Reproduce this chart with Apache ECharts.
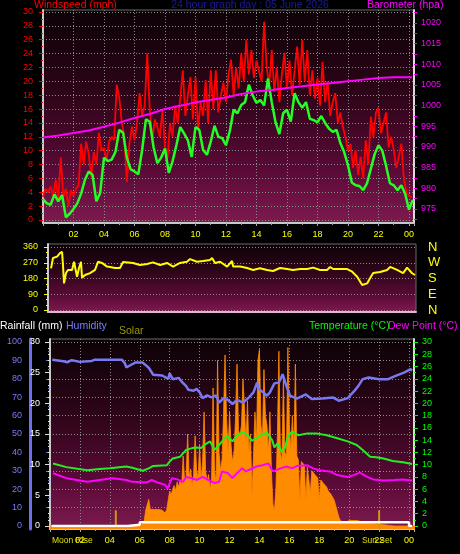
<!DOCTYPE html>
<html><head><meta charset="utf-8">
<script src="https://cdn.jsdelivr.net/npm/echarts@6/dist/echarts.min.js"></script>
<style>html,body{margin:0;padding:0;background:#000;}#c{width:460px;height:554px;}</style>
</head><body><div id="c"></div>
<script>
// ---------------- DATA ----------------
// wind gust (red), 10-minute steps from 00:00
const windGustStepH = 1/6;
const windGustMph = [
 3.3,4.5,4.0,4.8,3.5,5.8, 3.0,9.0,3.3,4.5,2.0,4.3, 3.5,4.5,5.0,11.0,8.0,11.3, 9.5,6.2,9.8,8.0,12.6,10.0,
 10.4,8.5,11.3,12.0,11.5,19.5, 17.7,14.0,12.0,5.5,11.0,13.5, 11.5,14.0,18.3,15.0,16.5,24.0, 16.0,11.5,14.5,13.4,12.0,15.9,
 10.5,9.0,14.0,12.0,16.5,14.0, 17.5,21.6,15.0,18.0,20.6,14.5, 20.6,13.0,17.0,15.0,20.2,14.0, 21.6,16.0,21.6,15.5,18.0,19.8,
 17.0,21.0,23.1,18.0,22.0,19.0, 24.0,20.0,26.0,21.0,24.5,20.5, 23.0,21.5,20.0,28.6,22.0,19.5, 24.5,18.5,22.0,17.0,21.0,24.1,
 19.0,23.0,18.0,21.5,25.0,19.5, 26.0,20.0,24.5,18.0,21.6,17.5, 20.5,16.5,22.8,17.0,20.0,15.0, 17.0,18.3,14.0,15.5,13.4,12.0,
 10.0,11.0,7.5,10.1,6.5,9.1, 6.0,11.5,8.0,14.9,12.0,15.5, 16.2,12.5,14.0,15.5,10.5,12.0, 10.1,7.5,9.1,11.0,6.0,4.0,
 3.5,3.3];
// average wind speed (green), 15-minute steps
const windAvgStepH = 0.25;
const windAvgMph = [
 3.0,2.4,2.2,3.7,2.7,3.6,0.4,0.9,1.6,2.4,
 3.8,5.8,7.0,6.5,2.7,3.9,9.0,8.5,8.7,9.8,
 13.0,12.6,9.0,7.3,7.0,6.6,10.1,14.5,14.2,10.5,
 8.2,9.0,10.3,6.8,8.5,10.8,13.4,12.5,11.5,9.1,
 13.4,13.0,10.1,9.4,11.3,13.6,12.0,11.8,10.8,12.8,
 15.9,15.4,16.6,17.0,19.5,18.0,16.9,17.3,16.5,20.4,
 17.0,14.1,12.4,15.4,15.9,14.2,18.3,17.0,16.2,17.0,
 14.6,14.4,14.1,15.0,14.0,13.2,12.7,13.0,11.1,9.8,
 7.9,5.4,5.0,4.9,4.3,5.3,7.4,9.5,10.8,10.0,
 7.8,5.3,5.0,4.3,5.0,3.8,1.5,2.9];
// barometer
const baroHours = [0,1,2,3,4,5,6,7,8,9,10,11,12,13,14,15,16,17,18,19,20,21,22,23,24,24.2];
const baroHpa = [992.3,992.8,993.4,994.0,994.9,995.9,997.0,998.0,999.2,1000.0,1000.8,1001.4,1002.0,1002.8,1003.4,1003.8,1004.3,1004.7,1005.1,1005.5,1005.9,1006.3,1006.7,1006.9,1006.9,1006.9];
const baroLabels = [975,980,985,990,995,1000,1005,1010,1015,1020];
const baroTicks = [972.5,975,977.5,980,982.5,985,987.5,990,992.5,995,997.5,1000,1002.5,1005,1007.5,1010,1012.5,1015,1017.5,1020,1022.5];
// wind direction
const dirHours = [0.2,0.33,0.6,0.79,0.93,0.99,1.06,1.19,1.32,1.59,
 1.72,1.85,1.92,2.05,2.18,2.25,2.45,2.78,3.11,3.31,
 3.57,3.9,4.1,4.43,4.76,4.96,5.62,6.08,6.55,6.94,
 7.41,7.87,8.27,8.73,9.19,9.39,9.85,10.25,10.71,10.85,
 11.04,11.38,11.84,12.17,12.24,12.7,13.16,13.56,14.02,14.48,
 14.88,15.34,15.81,16.2,16.67,17.13,17.53,17.99,18.45,18.65,
 18.85,19.31,19.78,20.11,20.44,20.77,21.1,21.3,21.5,21.96,
 22.42,22.62,23.08,23.48,23.74,24.07,24.27];
const dirDeg = [238,297,305,325,333,257,152,211,229,229,
 276,276,190,240,276,185,200,211,229,276,
 269,248,246,240,240,274,269,257,263,272,
 257,269,248,269,276,291,276,280,286,297,
 269,276,248,280,248,248,240,229,238,229,
 223,240,234,229,234,234,242,229,229,246,
 234,234,234,219,190,143,152,183,211,217,
 229,246,229,211,242,210,200];
const compassLabels = ['N','E','S','W','N'];
// humidity
const humHours = [0.15,0.9,1.15,1.45,2.0,2.8,3.0,4.8,5.0,5.1,5.4,5.7,6.2,6.6,6.9,7.5,7.9,8.0,8.2,8.6,8.85,9.1,9.25,9.6,9.8,10.0,10.2,10.5,10.8,11.1,11.3,11.6,11.9,12.2,12.5,12.9,13.3,13.6,13.85,13.95,14.2,14.5,14.7,15.0,15.3,15.55,15.8,16.05,16.5,17.1,17.5,18.2,18.9,19.3,19.9,20.3,20.6,20.9,21.3,22.0,22.6,23.1,23.7,24.1,24.2];
const humPct = [90.3,89.5,89.0,90.1,89.2,89.7,90.4,90.4,88.5,86.2,87.5,88.8,88.8,86.0,82.2,81.8,80.0,83.0,79.8,80.5,78.0,76.0,74.0,73.5,74.5,72.6,69.5,71.0,69.9,71.0,67.0,69.5,68.5,66.3,68.5,67.0,69.9,72.6,78.0,74.5,73.0,70.8,72.6,77.5,78.0,82.5,76.0,70.8,69.2,71.5,69.0,69.3,69.9,68.1,69.5,73.0,76.0,79.8,80.7,79.8,79.8,81.6,83.5,85.2,84.5];
// temperature
const tempHours = [0.2,1.1,2.5,3.3,4.0,5.1,5.5,6.2,6.6,6.9,7.8,8.0,8.2,8.7,9.1,9.5,9.8,10.1,10.3,10.7,11.0,11.3,11.8,12.2,12.5,12.9,13.2,13.5,13.85,14.1,14.5,14.85,15.0,15.2,15.5,15.7,15.9,16.2,16.6,17.2,17.8,18.5,19.2,19.9,20.5,20.9,21.4,21.8,22.3,22.9,23.6,24.2];
const tempC = [10.2,9.6,9.1,9.3,9.4,9.7,9.5,9.0,9.4,9.8,9.9,10.5,11.0,11.3,12.4,12.7,12.8,12.7,13.2,13.8,12.4,13.2,14.7,13.8,14.8,15.3,14.8,13.9,14.4,14.8,15.2,14.0,12.8,13.5,12.1,12.7,14.6,15.4,14.8,15.1,15.1,14.8,14.3,13.8,13.2,12.4,11.3,11.2,11.0,10.6,10.4,10.1];
// dew point
const dewHours = [0.2,1.1,2.5,3.3,4.2,5.1,5.5,6.5,6.8,7.3,7.7,7.85,8.15,8.5,8.9,9.1,9.5,9.8,10.2,10.6,11.0,11.3,11.5,11.9,12.2,12.5,12.85,13.1,13.8,14.2,14.6,14.9,15.4,15.8,16.2,16.5,17.2,17.6,18.0,18.7,19.2,19.9,20.3,20.7,21.2,21.6,22.3,23.0,23.6,24.2];
const dewC = [8.6,7.8,7.2,7.5,7.8,7.5,7.2,7.1,7.5,7.0,6.7,6.1,7.8,7.6,7.2,8.0,7.8,7.5,8.0,7.5,7.0,7.2,8.9,8.6,7.8,8.6,9.4,8.9,9.7,9.9,10.2,8.9,9.4,9.7,9.4,9.8,9.9,9.4,9.1,8.9,8.3,8.0,8.3,8.7,8.0,7.6,7.4,7.5,7.6,7.4];
// solar (percent of panel height), 6-minute steps from 06:00 to 20:00
const solarDayStartH = 6.0, solarDayStepH = 0.1;
const solarDayPct = [
 0,0.5,1,3,8.7,9,14.5,9,8.5,9,
 8,9,8.5,9,8,8.5,8,7,9,14,
 19,17,20,22,19,24,21,25,22,38,
 24,27,50,26,31,22,28,49,30,26,
 44,25,35,62,30,24,28,20,26,75,
 30,24,90,40,30,36,61,93,59,40,
 62,44,35,40,59,88,52,49,55,80,
 64,45,68,40,50,17,38,62,45,90,
 96,55,48,85,60,55,40,62,30,12,
 8,20,50,95,40,35,80,40,38,97,
 55,41,60,40,88,38,36,13,35,34,
 33,14,32,31,18,30,29,28,27,26,
 14,25,24,23,22,21,19,18,17,16,
 14,11,8,5,3,2.5,2,2,2,2.5,
 3];
const solarNightHours = [0,5.9];
const solarNightPct = [0,0];
const solarTailHours = [20.5,21,21.5,22,22.5,23,24.4];
const solarTailPct = [3,2,1.5,1,0.5,0,0];
// rainfall (step)
const rainHours = [0.1,5.2,6.0,24.0,24.2];
const rainMm = [0,0.2,0.6,0,0];
// events
const moonRiseH = 4.4, sunSetH = 22.0, eventMarkPct = 8.5;

// ---------------- LAYOUT ----------------
const X_MAX = 24.33;
const FONT = '"Liberation Sans", Arial, sans-serif';
const DOT = {show:true, lineStyle:{color:'#8a8a8a', type:[1,2], width:1}};
const BG = {type:'linear',x:0,y:0,x2:0,y2:1,colorStops:[
  {offset:0,color:'#0c0206'},{offset:0.4,color:'#2e0519'},{offset:0.75,color:'#5a0a37'},{offset:1,color:'#7e1a4f'}]};
const baroPx = (209-23)/45;
const BARO_MIN = 975 - (220-209)/baroPx, BARO_MAX = 1020 + (23-12)/baroPx;
const solPx = (526-342)/100;
const SOLAR_MIN = -(529-526)/solPx, SOLAR_MAX = 100 + (342-339)/solPx;

const pairs = (xs, ys) => xs.map((x,i)=>[x, ys[i]]);
const stepPairs = (step, ys, start=0) => ys.map((y,i)=>[start + i*step, y]);
const fmtHour = v => { const r = Math.round(v); if (Math.abs(v-r)>1e-6 || r<=0 || r>24) return ''; return String(r%24).padStart(2,'0'); };
const plain = v => String(Math.round(v));

const boxX = (gi, labels) => ({gridIndex:gi, type:'value', min:0, max:X_MAX, interval:2,
  axisLine:{show:true, onZero:false, lineStyle:{color:'#c8c8c8', width:2}},
  axisTick:{show:labels, length:3, lineStyle:{color:'#aaaaaa'}},
  minorTick:{show:labels, splitNumber:2, length:2, lineStyle:{color:'#aaaaaa'}},
  axisLabel:{show:labels, color:'#ffff00', fontSize:9, fontFamily:FONT, margin:7, formatter:fmtHour},
  splitLine: labels ? DOT : {show:false}});
const hidX = gi => ({gridIndex:gi, type:'value', min:0, max:X_MAX, show:false});
const edgeY = (gi, pos, color, extra) => Object.assign({gridIndex:gi, type:'value', position:pos, min:0, max:1,
  axisLine:{show:true, onZero:false, lineStyle:{color:color, width:2}}, axisTick:{show:false}, axisLabel:{show:false}, splitLine:{show:false}}, extra||{});

const solarData = pairs(solarNightHours, solarNightPct)
  .concat(stepPairs(solarDayStepH, solarDayPct, solarDayStartH))
  .concat(pairs(solarTailHours, solarTailPct));

const txt = (x, y, text, fill, size, align) => ({type:'text', x:x, y:y, z:50,
  style:{text:text, fill:fill, font: size + 'px ' + FONT, align: align||'left', verticalAlign:'middle'}});

const option = {
  backgroundColor:'#000000',
  animation:false,
  grid:[
    {left:43, top:10, width:371, height:213, show:true, backgroundColor:BG, borderColor:'#6a6a6a', borderWidth:1},
    {left:43, top:12, width:371, height:208},
    {left:48, top:244, width:368, height:68, show:true, backgroundColor:BG, borderColor:'#6a6a6a', borderWidth:1},
    {left:48, top:247, width:368, height:63},
    {left:50, top:339, width:364, height:190, show:true, backgroundColor:BG, borderColor:'#6a6a6a', borderWidth:1},
    {left:50, top:342, width:364, height:184}
  ],
  xAxis:[
    boxX(0, true), hidX(1),
    {gridIndex:2, type:'value', min:0, max:X_MAX, axisLine:{show:true, onZero:false, lineStyle:{color:'#e6b4d2', width:2}}, axisTick:{show:false}, axisLabel:{show:false}, splitLine:{show:false}},
    hidX(3),
    boxX(4, true), hidX(5)
  ],
  yAxis:[
    edgeY(0,'left','#c8c8c8'),
    edgeY(0,'right','#dcdcdc'),
    {gridIndex:1, type:'value', position:'left', min:0, max:30, interval:2,
      axisLine:{show:false}, axisTick:{show:true, length:4, lineStyle:{color:'#ff0000'}},
      minorTick:{show:true, splitNumber:2, length:2, lineStyle:{color:'#ff0000'}},
      axisLabel:{color:'#ff0000', fontSize:9, fontFamily:FONT, margin:10}, splitLine:DOT},
    {gridIndex:1, type:'value', position:'right', min:BARO_MIN, max:BARO_MAX,
      axisLine:{show:false}, axisTick:{show:true, customValues:baroTicks, length:3, lineStyle:{color:'#ff00ff'}},
      axisLabel:{customValues:baroLabels, formatter:plain, color:'#ff00ff', fontSize:9, fontFamily:FONT, margin:7}, splitLine:{show:false}},
    edgeY(2,'left','#c8c8c8'),
    {gridIndex:3, type:'value', position:'left', min:0, max:360, interval:90,
      axisLine:{show:false}, axisTick:{show:true, length:4, lineStyle:{color:'#ffff00'}},
      minorTick:{show:true, splitNumber:3, length:2, lineStyle:{color:'#ffff00'}},
      axisLabel:{color:'#ffff00', fontSize:9, fontFamily:FONT, margin:10}, splitLine:DOT},
    {gridIndex:3, type:'value', position:'right', min:0, max:360, interval:90,
      axisLine:{show:false}, axisTick:{show:false}, splitLine:{show:false},
      axisLabel:{color:'#ffff00', fontSize:13, fontFamily:FONT, margin:12, formatter: v => compassLabels[Math.round(v/90)]}},
    edgeY(4,'left','#c8c8c8'),
    edgeY(4,'right','#dcdcdc'),
    edgeY(4,'left','#7070ee', {offset:20, axisLine:{show:true, onZero:false, lineStyle:{color:'#7070ee', width:3}}}),
    {gridIndex:4, type:'value', min:SOLAR_MIN, max:SOLAR_MAX, show:false},
    {gridIndex:5, type:'value', position:'left', offset:20, min:0, max:100, interval:10,
      axisLine:{show:false}, axisTick:{show:true, length:4, lineStyle:{color:'#7b7bff'}},
      minorTick:{show:true, splitNumber:2, length:2, lineStyle:{color:'#7b7bff'}},
      axisLabel:{color:'#7b7bff', fontSize:9, fontFamily:FONT, margin:8}, splitLine:DOT},
    {gridIndex:5, type:'value', position:'left', min:0, max:30, interval:5,
      axisLine:{show:false}, axisTick:{show:true, length:5, lineStyle:{color:'#dddddd'}},
      minorTick:{show:true, splitNumber:5, length:2, lineStyle:{color:'#dddddd'}},
      axisLabel:{color:'#ffffff', fontSize:9, fontFamily:FONT, margin:10}, splitLine:{show:false}},
    {gridIndex:5, type:'value', position:'right', min:0, max:30, interval:2,
      axisLine:{show:false}, axisTick:{show:true, length:4, lineStyle:{color:'#00ff00'}},
      minorTick:{show:true, splitNumber:2, length:2, lineStyle:{color:'#00ff00'}},
      axisLabel:{color:'#00ff00', fontSize:9, fontFamily:FONT, margin:8}, splitLine:{show:false}}
  ],
  series:[
    {type:'line', xAxisIndex:1, yAxisIndex:2, data:stepPairs(windGustStepH, windGustMph), symbol:'none',
      lineStyle:{color:'#ff0000', width:1.8}},
    {type:'line', xAxisIndex:1, yAxisIndex:2, data:stepPairs(windAvgStepH, windAvgMph), symbol:'none',
      lineStyle:{color:'#22ff22', width:2.5}},
    {type:'line', xAxisIndex:1, yAxisIndex:3, data:pairs(baroHours, baroHpa), symbol:'none',
      lineStyle:{color:'#ff00ff', width:2}},
    {type:'line', xAxisIndex:3, yAxisIndex:5, data:pairs(dirHours, dirDeg), symbol:'none',
      lineStyle:{color:'#ffff00', width:2}},
    {type:'line', xAxisIndex:4, yAxisIndex:10, data:solarData, symbol:'none',
      lineStyle:{color:'#ff8c00', width:0.8}, areaStyle:{color:'#ff8c00', opacity:1, origin:'start'}},
    {type:'line', xAxisIndex:4, yAxisIndex:10, data:[[moonRiseH, SOLAR_MIN],[moonRiseH, eventMarkPct]], symbol:'none',
      lineStyle:{color:'#c89a10', width:2}},
    {type:'line', xAxisIndex:4, yAxisIndex:10, data:[[sunSetH, SOLAR_MIN],[sunSetH, eventMarkPct]], symbol:'none',
      lineStyle:{color:'#c89a10', width:2}},
    {type:'line', xAxisIndex:5, yAxisIndex:12, data:pairs(rainHours, rainMm), step:'end', symbol:'none',
      lineStyle:{color:'#ffffff', width:2.5}},
    {type:'line', xAxisIndex:5, yAxisIndex:11, data:pairs(humHours, humPct), symbol:'none',
      lineStyle:{color:'#7878f0', width:2.5}},
    {type:'line', xAxisIndex:5, yAxisIndex:13, data:pairs(tempHours, tempC), symbol:'none',
      lineStyle:{color:'#22ee22', width:2}},
    {type:'line', xAxisIndex:5, yAxisIndex:13, data:pairs(dewHours, dewC), symbol:'none',
      lineStyle:{color:'#ff00ff', width:2}}
  ],
  graphic:[
    txt(34, 5, 'Windspeed (mph)', '#ff0000', 10.5),
    txt(250, 5, '24 hour graph day : 05 June 2026', '#1a1a9c', 10.5, 'center'),
    txt(367, 5, 'Barometer (hpa)', '#ff00ff', 10.5),
    txt(0, 326, 'Rainfall (mm)', '#ffffff', 10.5),
    txt(66, 326, 'Humidity', '#7b7bff', 10.5),
    txt(119, 331, 'Solar', '#999900', 10.5),
    txt(309, 326, 'Temperature (°C)', '#00ff00', 10.5),
    txt(388, 326, 'Dew Point (°C)', '#ff00ff', 10.5),
    txt(52, 541, 'Moon Rise', '#e0e000', 8.5),
    txt(377, 541, 'Sun Set', '#e0e000', 8.5, 'center')
  ]
};
echarts.init(document.getElementById('c')).setOption(option);
</script></body></html>
